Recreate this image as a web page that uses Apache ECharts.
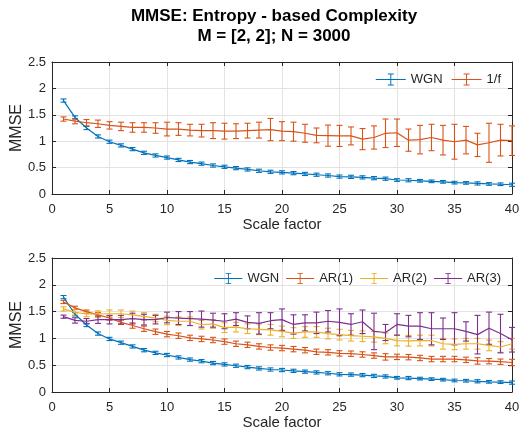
<!DOCTYPE html>
<html>
<head>
<meta charset="utf-8">
<script src="https://cdn.jsdelivr.net/npm/echarts@6/dist/echarts.min.js"></script>
<style>html,body{margin:0;padding:0;background:#fff}#c{width:521px;height:437px}</style>
</head>
<body>
<div id="c"></div>
<script>
const scales = [1,2,3,4,5,6,7,8,9,10,11,12,13,14,15,16,17,18,19,20,21,22,23,24,25,26,27,28,29,30,31,32,33,34,35,36,37,38,39,40];
const xTicks = [0,5,10,15,20,25,30,35,40];
const yTicks = [0,0.5,1,1.5,2,2.5];

const wgn = [1.77,1.45,1.25,1.09,0.99,0.92,0.85,0.78,0.73,0.69,0.645,0.605,0.575,0.54,0.515,0.49,0.465,0.44,0.42,0.41,0.395,0.38,0.365,0.35,0.33,0.325,0.315,0.30,0.29,0.265,0.26,0.25,0.24,0.23,0.215,0.21,0.20,0.19,0.185,0.175];
const wgnErr = [0.03,0.03,0.03,0.03,0.03,0.03,0.03,0.03,0.03,0.03,0.03,0.03,0.03,0.03,0.03,0.03,0.03,0.03,0.03,0.03,0.03,0.03,0.03,0.03,0.03,0.03,0.03,0.03,0.03,0.025,0.03,0.025,0.025,0.025,0.025,0.025,0.03,0.025,0.025,0.03];

const oneF = [1.42,1.38,1.35,1.33,1.30,1.28,1.26,1.26,1.25,1.23,1.23,1.21,1.20,1.20,1.19,1.19,1.20,1.21,1.22,1.19,1.18,1.15,1.11,1.105,1.10,1.10,1.04,1.07,1.15,1.16,1.02,1.03,1.07,1.02,0.99,1.02,0.93,0.97,1.02,1.01];
const oneFErr = [0.04,0.05,0.06,0.07,0.07,0.08,0.09,0.09,0.1,0.13,0.12,0.11,0.12,0.15,0.15,0.14,0.14,0.15,0.21,0.18,0.18,0.17,0.14,0.2,0.2,0.17,0.2,0.22,0.27,0.26,0.21,0.27,0.25,0.28,0.33,0.26,0.22,0.37,0.3,0.28];

const ar1 = [1.68,1.57,1.50,1.44,1.38,1.30,1.24,1.18,1.125,1.08,1.05,1.01,0.99,0.97,0.94,0.90,0.88,0.85,0.83,0.82,0.80,0.78,0.75,0.74,0.72,0.715,0.70,0.68,0.655,0.655,0.65,0.635,0.615,0.615,0.615,0.60,0.58,0.575,0.565,0.55];
const ar1Err = [0.03,0.03,0.03,0.04,0.04,0.04,0.05,0.05,0.05,0.05,0.05,0.05,0.05,0.05,0.05,0.05,0.05,0.05,0.05,0.05,0.05,0.05,0.05,0.05,0.05,0.05,0.05,0.05,0.06,0.05,0.05,0.05,0.05,0.05,0.05,0.05,0.06,0.05,0.05,0.06];

const ar2 = [1.55,1.485,1.455,1.455,1.46,1.46,1.44,1.41,1.38,1.335,1.32,1.32,1.255,1.27,1.20,1.21,1.18,1.17,1.16,1.13,1.10,1.12,1.12,1.09,1.07,1.05,1.04,1.03,1.0,0.96,0.955,0.96,0.96,0.90,0.89,0.90,0.90,0.87,0.84,0.90];
const ar2Err = [0.04,0.05,0.05,0.06,0.07,0.07,0.07,0.07,0.07,0.08,0.08,0.08,0.08,0.08,0.09,0.09,0.09,0.1,0.1,0.1,0.1,0.1,0.1,0.1,0.1,0.1,0.1,0.1,0.1,0.1,0.1,0.1,0.1,0.1,0.1,0.1,0.1,0.1,0.1,0.1];

const ar3 = [1.405,1.335,1.32,1.35,1.35,1.35,1.37,1.35,1.35,1.39,1.38,1.37,1.36,1.34,1.32,1.36,1.30,1.28,1.33,1.35,1.26,1.29,1.29,1.32,1.30,1.26,1.31,1.13,1.11,1.26,1.23,1.23,1.18,1.18,1.18,1.13,1.07,1.19,1.09,0.975];
const ar3Err = [0.03,0.05,0.05,0.07,0.08,0.08,0.1,0.1,0.08,0.1,0.12,0.13,0.15,0.13,0.14,0.12,0.12,0.2,0.15,0.2,0.18,0.15,0.2,0.2,0.25,0.2,0.22,0.34,0.15,0.2,0.2,0.25,0.3,0.2,0.3,0.18,0.36,0.3,0.36,0.23];

const C = { wgn:'#0072BD', ar1:'#D95319', ar2:'#EDB120', ar3:'#7E2F8E' };
const FONT = '"Liberation Sans", Arial, Helvetica, sans-serif';
const TXT = '#262626';

const icon = 'path://M0,6.5 L30,6.5 L30,7.5 L0,7.5 Z M14.5,1 L15.5,1 L15.5,13 L14.5,13 Z M12,1 L18,1 L18,2 L12,2 Z M12,12 L18,12 L18,13 L12,13 Z';

function pairs(vals){ return scales.map((s,i)=>[s, vals[i]]); }
function triples(vals, errs){ return scales.map((s,i)=>[s, vals[i], errs[i]]); }

function errSeries(vals, errs, color, gi){
  return {
    type:'custom', xAxisIndex:gi, yAxisIndex:gi, silent:true, z:3,
    data: triples(vals, errs),
    encode:{x:0, y:1},
    renderItem:function(params, api){
      const x = api.value(0), v = api.value(1), e = api.value(2);
      const hi = api.coord([x, v+e]);
      const lo = api.coord([x, v-e]);
      const st = {stroke:color, lineWidth:1.1};
      const hw = 3;
      return {type:'group', children:[
        {type:'line', shape:{x1:hi[0],y1:hi[1],x2:lo[0],y2:lo[1]}, style:st},
        {type:'line', shape:{x1:hi[0]-hw,y1:hi[1],x2:hi[0]+hw,y2:hi[1]}, style:st},
        {type:'line', shape:{x1:lo[0]-hw,y1:lo[1],x2:lo[0]+hw,y2:lo[1]}, style:st}
      ]};
    }
  };
}
function lineSeries(name, vals, color, gi){
  return {type:'line', name:name, xAxisIndex:gi, yAxisIndex:gi, data:pairs(vals),
    showSymbol:false, symbol:'none', color:color, z:4,
    lineStyle:{color:color, width:1.2}, itemStyle:{color:color}, emphasis:{disabled:true}};
}

function xAx(gi, pos){
  const main = pos==='bottom';
  return {type:'value', gridIndex:gi, position:pos, min:0, max:40, interval:5,
    name: main ? 'Scale factor' : '', nameLocation:'middle', nameGap:23, nameMoveOverlap:false,
    nameTextStyle:{fontFamily:FONT, fontSize:15, color:TXT},
    axisLine:{show:true, onZero:false, lineStyle:{color:TXT, width:1}},
    axisTick:{show:true, inside:true, length:4, lineStyle:{color:TXT}},
    axisLabel:{show:main, fontFamily:FONT, fontSize:13, color:TXT, margin:9},
    splitLine:{show:main, lineStyle:{color:'#e3e3e3', width:1}}};
}
function yAx(gi, pos){
  const main = pos==='left';
  return {type:'value', gridIndex:gi, position:pos, min:0, max:2.5, interval:0.5,
    name: main ? 'MMSE' : '', nameLocation:'middle', nameGap:27, nameMoveOverlap:false,
    nameTextStyle:{fontFamily:FONT, fontSize:16, color:TXT},
    axisLine:{show:true, onZero:false, lineStyle:{color:TXT, width:1}},
    axisTick:{show:true, inside:true, length:4, lineStyle:{color:TXT}},
    axisLabel:{show:main, fontFamily:FONT, fontSize:13, color:TXT, margin:6,
      formatter:function(v){ return yTicks.indexOf(v)>=0 ? String(v) : ''; }},
    splitLine:{show:main, lineStyle:{color:'#e3e3e3', width:1}}};
}

const chart = echarts.init(document.getElementById('c'), null, {renderer:'canvas'});
chart.setOption({
  animation:false,
  backgroundColor:'#ffffff',
  title:{text:'MMSE: Entropy - based Complexity\nM = [2, 2]; N = 3000', left:269, top:1, textAlign:'center',
    textStyle:{fontFamily:FONT, fontSize:17, fontWeight:'bold', color:'#000', lineHeight:20}},
  grid:[
    {left:52, top:62, width:460, height:132, outerBoundsMode:'none', containLabel:false},
    {left:52, top:258, width:460, height:134, outerBoundsMode:'none', containLabel:false}
  ],
  xAxis:[xAx(0,'bottom'), xAx(1,'bottom'), xAx(0,'top'), xAx(1,'top')],
  yAxis:[yAx(0,'left'), yAx(1,'left'), yAx(0,'right'), yAx(1,'right')],
  legend:[
    {top:68, right:15, itemWidth:30, itemHeight:14, itemGap:9, selectedMode:false,
      textStyle:{fontFamily:FONT, fontSize:13, color:TXT},
      data:[{name:'WGN', icon:icon},{name:'1/f', icon:icon}]},
    {top:267, right:15, itemWidth:28, itemHeight:14, itemGap:7, selectedMode:false,
      textStyle:{fontFamily:FONT, fontSize:13, color:TXT},
      data:[{name:'WGN', icon:icon},{name:'AR(1)', icon:icon},{name:'AR(2)', icon:icon},{name:'AR(3)', icon:icon}]}
  ],
  series:[
    errSeries(wgn, wgnErr, C.wgn, 0),
    lineSeries('WGN', wgn, C.wgn, 0),
    errSeries(oneF, oneFErr, C.ar1, 0),
    lineSeries('1/f', oneF, C.ar1, 0),
    errSeries(wgn, wgnErr, C.wgn, 1),
    lineSeries('WGN', wgn, C.wgn, 1),
    errSeries(ar1, ar1Err, C.ar1, 1),
    lineSeries('AR(1)', ar1, C.ar1, 1),
    errSeries(ar2, ar2Err, C.ar2, 1),
    lineSeries('AR(2)', ar2, C.ar2, 1),
    errSeries(ar3, ar3Err, C.ar3, 1),
    lineSeries('AR(3)', ar3, C.ar3, 1)
  ]
});
</script>
</body>
</html>
